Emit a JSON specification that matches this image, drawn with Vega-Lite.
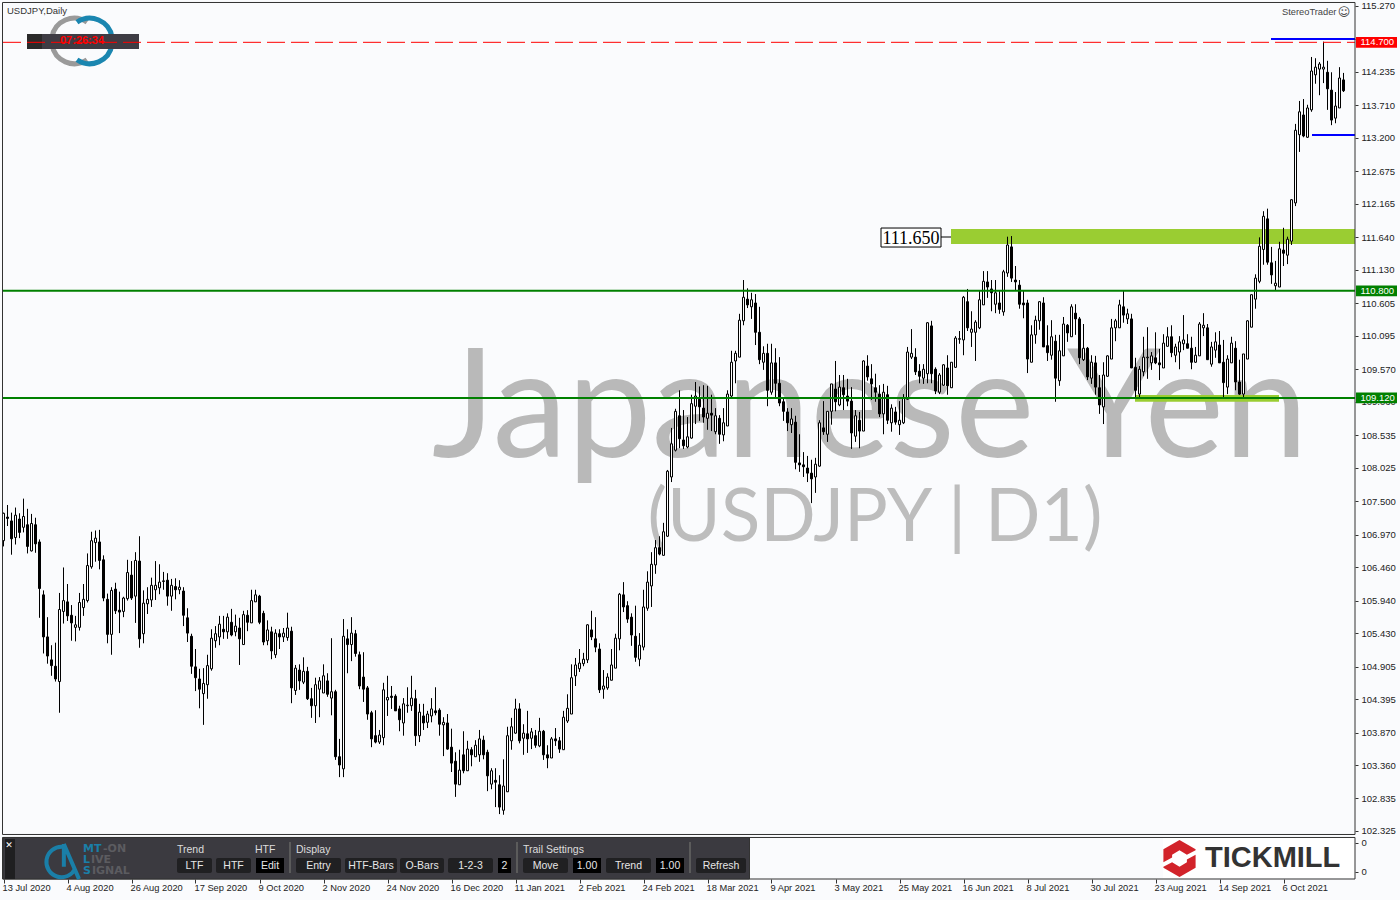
{"$schema":"https://vega.github.io/schema/vega-lite/v6.json","width":1355,"height":879,"autosize":{"type":"none"},"padding":{"left":0,"right":45,"top":0,"bottom":21},"background":"#fafbfd","config":{"view":{"stroke":null},"text":{"font":"Liberation Sans"}},
"datasets":{"candles":[
{"i":0,"o":106.88,"h":107.32,"l":106.79,"c":107.31},{"i":1,"o":107.25,"h":107.44,"l":107.11,"c":107.23},{"i":2,"o":107.19,"h":107.32,"l":106.66,"c":106.91},{"i":3,"o":106.93,"h":107.40,"l":106.82,"c":107.28},{"i":4,"o":107.22,"h":107.31,"l":106.92,"c":107.01},{"i":5,"o":107.09,"h":107.54,"l":107.01,"c":107.26},{"i":6,"o":107.13,"h":107.38,"l":106.68,"c":106.79},{"i":7,"o":106.72,"h":107.30,"l":106.71,"c":107.15},{"i":8,"o":107.13,"h":107.24,"l":106.69,"c":106.83},{"i":9,"o":106.86,"h":106.90,"l":105.67,"c":106.13},
{"i":10,"o":106.03,"h":106.10,"l":105.11,"c":105.37},{"i":11,"o":105.37,"h":105.68,"l":104.95,"c":105.07},{"i":12,"o":105.01,"h":105.24,"l":104.76,"c":104.92},{"i":13,"o":104.91,"h":105.28,"l":104.67,"c":104.71},{"i":14,"o":104.67,"h":106.06,"l":104.18,"c":105.80},{"i":15,"o":105.77,"h":106.46,"l":105.58,"c":105.94},{"i":16,"o":105.92,"h":106.20,"l":105.62,"c":105.70},{"i":17,"o":105.71,"h":105.87,"l":105.31,"c":105.59},{"i":18,"o":105.52,"h":105.70,"l":105.30,"c":105.56},{"i":19,"o":105.52,"h":106.06,"l":105.47,"c":105.91},
{"i":20,"o":105.83,"h":106.20,"l":105.70,"c":105.96},{"i":21,"o":105.94,"h":106.68,"l":105.91,"c":106.49},{"i":22,"o":106.47,"h":107.02,"l":106.44,"c":106.88},{"i":23,"o":106.85,"h":107.04,"l":106.55,"c":106.92},{"i":24,"o":106.86,"h":107.05,"l":106.43,"c":106.57},{"i":25,"o":106.58,"h":106.65,"l":105.93,"c":105.98},{"i":26,"o":105.96,"h":106.05,"l":105.27,"c":105.41},{"i":27,"o":105.41,"h":106.15,"l":105.09,"c":106.10},{"i":28,"o":106.12,"h":106.22,"l":105.73,"c":105.78},{"i":29,"o":105.79,"h":106.08,"l":105.43,"c":105.76},
{"i":30,"o":105.77,"h":106.00,"l":105.68,"c":105.98},{"i":31,"o":105.97,"h":106.58,"l":105.94,"c":106.38},{"i":32,"o":106.34,"h":106.56,"l":105.95,"c":105.98},{"i":33,"o":106.01,"h":106.70,"l":105.59,"c":106.57},{"i":34,"o":106.56,"h":106.95,"l":105.20,"c":105.34},{"i":35,"o":105.42,"h":106.10,"l":105.27,"c":105.90},{"i":36,"o":105.89,"h":106.15,"l":105.73,"c":105.96},{"i":37,"o":105.95,"h":106.30,"l":105.84,"c":106.18},{"i":38,"o":106.11,"h":106.56,"l":105.95,"c":106.18},{"i":39,"o":106.14,"h":106.51,"l":106.04,"c":106.23},
{"i":40,"o":106.24,"h":106.39,"l":106.11,"c":106.25},{"i":41,"o":106.26,"h":106.37,"l":105.86,"c":106.01},{"i":42,"o":106.01,"h":106.28,"l":105.78,"c":106.18},{"i":43,"o":106.16,"h":106.29,"l":105.96,"c":106.11},{"i":44,"o":106.11,"h":106.26,"l":106.04,"c":106.15},{"i":45,"o":106.09,"h":106.15,"l":105.54,"c":105.71},{"i":46,"o":105.67,"h":105.82,"l":105.29,"c":105.43},{"i":47,"o":105.38,"h":105.42,"l":104.79,"c":104.91},{"i":48,"o":104.90,"h":105.18,"l":104.52,"c":104.73},{"i":49,"o":104.71,"h":104.87,"l":104.25,"c":104.55},
{"i":50,"o":104.48,"h":104.88,"l":103.99,"c":104.64},{"i":51,"o":104.62,"h":105.09,"l":104.40,"c":104.92},{"i":52,"o":104.87,"h":105.49,"l":104.84,"c":105.35},{"i":53,"o":105.31,"h":105.54,"l":105.20,"c":105.42},{"i":54,"o":105.37,"h":105.70,"l":105.24,"c":105.57},{"i":55,"o":105.49,"h":105.70,"l":105.34,"c":105.45},{"i":56,"o":105.45,"h":105.74,"l":105.34,"c":105.68},{"i":57,"o":105.60,"h":105.81,"l":105.38,"c":105.40},{"i":58,"o":105.45,"h":105.72,"l":105.38,"c":105.54},{"i":59,"o":105.51,"h":105.67,"l":104.93,"c":105.34},
{"i":60,"o":105.25,"h":105.78,"l":105.25,"c":105.72},{"i":61,"o":105.71,"h":105.79,"l":105.46,"c":105.60},{"i":62,"o":105.59,"h":106.11,"l":105.59,"c":105.94},{"i":63,"o":105.92,"h":106.11,"l":105.92,"c":106.03},{"i":64,"o":106.01,"h":106.03,"l":105.57,"c":105.60},{"i":65,"o":105.74,"h":105.78,"l":105.24,"c":105.29},{"i":66,"o":105.31,"h":105.63,"l":105.24,"c":105.48},{"i":67,"o":105.45,"h":105.53,"l":105.02,"c":105.15},{"i":68,"o":105.09,"h":105.49,"l":105.04,"c":105.43},{"i":69,"o":105.42,"h":105.49,"l":105.18,"c":105.37},
{"i":70,"o":105.37,"h":105.51,"l":105.29,"c":105.43},{"i":71,"o":105.36,"h":105.75,"l":105.31,"c":105.51},{"i":72,"o":105.46,"h":105.53,"l":104.33,"c":104.57},{"i":73,"o":104.53,"h":104.93,"l":104.46,"c":104.88},{"i":74,"o":104.85,"h":104.94,"l":104.54,"c":104.68},{"i":75,"o":104.66,"h":105.05,"l":104.63,"c":104.83},{"i":76,"o":104.83,"h":104.90,"l":104.38,"c":104.40},{"i":77,"o":104.40,"h":104.57,"l":104.10,"c":104.29},{"i":78,"o":104.29,"h":104.73,"l":104.02,"c":104.62},{"i":79,"o":104.55,"h":104.74,"l":104.11,"c":104.68},
{"i":80,"o":104.49,"h":104.94,"l":104.49,"c":104.76},{"i":81,"o":104.68,"h":104.80,"l":104.43,"c":104.47},{"i":82,"o":104.41,"h":105.35,"l":104.14,"c":104.51},{"i":83,"o":104.51,"h":104.54,"l":103.44,"c":103.49},{"i":84,"o":103.49,"h":103.77,"l":103.17,"c":103.36},{"i":85,"o":103.30,"h":105.65,"l":103.17,"c":105.38},{"i":86,"o":105.34,"h":105.49,"l":104.80,"c":105.25},{"i":87,"o":105.25,"h":105.68,"l":104.99,"c":105.43},{"i":88,"o":105.42,"h":105.48,"l":105.06,"c":105.11},{"i":89,"o":105.09,"h":105.14,"l":104.55,"c":104.60},
{"i":90,"o":104.74,"h":105.13,"l":104.35,"c":104.55},{"i":91,"o":104.57,"h":104.60,"l":104.07,"c":104.16},{"i":92,"o":104.18,"h":104.21,"l":103.64,"c":103.77},{"i":93,"o":103.82,"h":104.22,"l":103.70,"c":103.72},{"i":94,"o":103.72,"h":103.91,"l":103.69,"c":103.83},{"i":95,"o":103.79,"h":104.65,"l":103.67,"c":104.54},{"i":96,"o":104.38,"h":104.76,"l":104.13,"c":104.42},{"i":97,"o":104.44,"h":104.60,"l":104.24,"c":104.42},{"i":98,"o":104.44,"h":104.47,"l":104.21,"c":104.21},{"i":99,"o":104.24,"h":104.29,"l":103.89,"c":104.07},
{"i":100,"o":104.02,"h":104.41,"l":103.82,"c":104.32},{"i":101,"o":104.29,"h":104.58,"l":104.18,"c":104.30},{"i":102,"o":104.29,"h":104.76,"l":104.21,"c":104.41},{"i":103,"o":104.40,"h":104.54,"l":103.66,"c":103.82},{"i":104,"o":103.82,"h":104.32,"l":103.72,"c":104.19},{"i":105,"o":104.13,"h":104.32,"l":103.91,"c":104.02},{"i":106,"o":104.03,"h":104.21,"l":103.94,"c":104.16},{"i":107,"o":104.13,"h":104.41,"l":104.03,"c":104.24},{"i":108,"o":104.21,"h":104.58,"l":104.14,"c":104.18},{"i":109,"o":104.22,"h":104.25,"l":103.82,"c":104.00},
{"i":110,"o":103.99,"h":104.11,"l":103.50,"c":104.03},{"i":111,"o":104.02,"h":104.16,"l":103.60,"c":103.61},{"i":112,"o":103.64,"h":103.93,"l":103.25,"c":103.39},{"i":113,"o":103.42,"h":103.56,"l":102.86,"c":103.06},{"i":114,"o":103.05,"h":103.60,"l":103.05,"c":103.28},{"i":115,"o":103.52,"h":103.89,"l":103.23,"c":103.27},{"i":116,"o":103.27,"h":103.74,"l":103.27,"c":103.61},{"i":117,"o":103.60,"h":103.64,"l":103.34,"c":103.52},{"i":118,"o":103.49,"h":103.75,"l":103.49,"c":103.67},{"i":119,"o":103.52,"h":103.91,"l":103.41,"c":103.77},
{"i":120,"o":103.75,"h":103.82,"l":103.45,"c":103.52},{"i":121,"o":103.56,"h":103.60,"l":102.95,"c":103.19},{"i":122,"o":103.06,"h":103.31,"l":102.98,"c":103.27},{"i":123,"o":103.12,"h":103.31,"l":102.70,"c":103.09},{"i":124,"o":103.05,"h":103.20,"l":102.59,"c":102.70},{"i":125,"o":102.65,"h":103.45,"l":102.58,"c":103.03},{"i":126,"o":102.94,"h":103.96,"l":102.94,"c":103.82},{"i":127,"o":103.74,"h":104.10,"l":103.60,"c":103.96},{"i":128,"o":103.86,"h":104.40,"l":103.85,"c":104.24},{"i":129,"o":104.24,"h":104.33,"l":103.70,"c":103.74},
{"i":130,"o":103.78,"h":104.00,"l":103.52,"c":103.86},{"i":131,"o":103.85,"h":104.21,"l":103.55,"c":103.77},{"i":132,"o":103.78,"h":103.94,"l":103.61,"c":103.88},{"i":133,"o":103.82,"h":103.91,"l":103.63,"c":103.67},{"i":134,"o":103.66,"h":104.10,"l":103.64,"c":103.89},{"i":135,"o":103.89,"h":103.91,"l":103.44,"c":103.52},{"i":136,"o":103.52,"h":103.67,"l":103.31,"c":103.47},{"i":137,"o":103.47,"h":103.80,"l":103.47,"c":103.77},{"i":138,"o":103.77,"h":103.94,"l":103.66,"c":103.74},{"i":139,"o":103.74,"h":103.80,"l":103.55,"c":103.61},
{"i":140,"o":103.60,"h":104.21,"l":103.60,"c":104.11},{"i":141,"o":104.05,"h":104.47,"l":104.02,"c":104.25},{"i":142,"o":104.16,"h":104.94,"l":104.16,"c":104.73},{"i":143,"o":104.76,"h":105.04,"l":104.60,"c":104.93},{"i":144,"o":104.87,"h":105.18,"l":104.82,"c":104.96},{"i":145,"o":104.95,"h":105.12,"l":104.91,"c":105.02},{"i":146,"o":105.01,"h":105.57,"l":104.96,"c":105.56},{"i":147,"o":105.48,"h":105.78,"l":105.32,"c":105.37},{"i":148,"o":105.34,"h":105.68,"l":105.13,"c":105.21},{"i":149,"o":105.18,"h":105.27,"l":104.49,"c":104.54},
{"i":150,"o":104.55,"h":104.85,"l":104.40,"c":104.60},{"i":151,"o":104.57,"h":104.80,"l":104.54,"c":104.74},{"i":152,"o":104.69,"h":105.18,"l":104.69,"c":104.93},{"i":153,"o":104.88,"h":105.42,"l":104.88,"c":105.35},{"i":154,"o":105.34,"h":106.06,"l":105.16,"c":106.04},{"i":155,"o":106.03,"h":106.23,"l":105.76,"c":105.84},{"i":156,"o":105.86,"h":105.93,"l":105.59,"c":105.65},{"i":157,"o":105.68,"h":105.74,"l":105.23,"c":105.40},{"i":158,"o":105.38,"h":105.86,"l":104.98,"c":105.05},{"i":159,"o":105.02,"h":105.43,"l":104.91,"c":105.24},
{"i":160,"o":105.21,"h":106.11,"l":105.16,"c":105.84},{"i":161,"o":105.82,"h":106.40,"l":105.78,"c":106.23},{"i":162,"o":106.17,"h":106.70,"l":105.84,"c":106.51},{"i":163,"o":106.50,"h":106.89,"l":106.36,"c":106.77},{"i":164,"o":106.77,"h":106.95,"l":106.65,"c":106.67},{"i":165,"o":106.65,"h":107.16,"l":106.65,"c":107.02},{"i":166,"o":106.95,"h":107.99,"l":106.94,"c":107.97},{"i":167,"o":107.88,"h":108.65,"l":107.80,"c":108.40},{"i":168,"o":108.30,"h":108.95,"l":108.28,"c":108.91},{"i":169,"o":108.84,"h":109.24,"l":108.33,"c":108.48},
{"i":170,"o":108.46,"h":108.93,"l":108.32,"c":108.37},{"i":171,"o":108.35,"h":108.82,"l":108.33,"c":108.51},{"i":172,"o":108.49,"h":109.17,"l":108.48,"c":109.03},{"i":173,"o":108.99,"h":109.37,"l":108.71,"c":109.15},{"i":174,"o":109.10,"h":109.30,"l":108.76,"c":108.98},{"i":175,"o":108.96,"h":109.32,"l":108.73,"c":108.82},{"i":176,"o":108.80,"h":109.31,"l":108.62,"c":108.88},{"i":177,"o":108.88,"h":109.17,"l":108.60,"c":108.85},{"i":178,"o":108.59,"h":108.96,"l":108.55,"c":108.84},{"i":179,"o":108.80,"h":108.85,"l":108.40,"c":108.55},
{"i":180,"o":108.54,"h":108.96,"l":108.44,"c":108.73},{"i":181,"o":108.68,"h":109.24,"l":108.68,"c":109.18},{"i":182,"o":109.15,"h":109.86,"l":109.13,"c":109.68},{"i":183,"o":109.70,"h":109.86,"l":109.35,"c":109.82},{"i":184,"o":109.76,"h":110.44,"l":109.76,"c":110.34},{"i":185,"o":110.33,"h":110.97,"l":110.26,"c":110.70},{"i":186,"o":110.67,"h":110.84,"l":110.53,"c":110.58},{"i":187,"o":110.55,"h":110.77,"l":110.36,"c":110.66},{"i":188,"o":110.61,"h":110.75,"l":109.95,"c":110.15},{"i":189,"o":110.15,"h":110.55,"l":109.65,"c":109.72},
{"i":190,"o":109.68,"h":109.93,"l":109.56,"c":109.82},{"i":191,"o":109.82,"h":109.97,"l":108.99,"c":109.24},{"i":192,"o":109.21,"h":109.97,"l":109.17,"c":109.67},{"i":193,"o":109.67,"h":109.90,"l":109.12,"c":109.35},{"i":194,"o":109.35,"h":109.76,"l":108.99,"c":109.04},{"i":195,"o":109.06,"h":109.11,"l":108.76,"c":108.91},{"i":196,"o":108.90,"h":108.96,"l":108.60,"c":108.73},{"i":197,"o":108.70,"h":108.96,"l":108.57,"c":108.79},{"i":198,"o":108.74,"h":108.84,"l":108.00,"c":108.11},{"i":199,"o":108.10,"h":108.55,"l":107.96,"c":108.07},
{"i":200,"o":108.07,"h":108.27,"l":107.88,"c":108.04},{"i":201,"o":108.02,"h":108.21,"l":107.80,"c":107.94},{"i":202,"o":107.94,"h":108.15,"l":107.47,"c":107.85},{"i":203,"o":107.88,"h":108.18,"l":107.63,"c":108.08},{"i":204,"o":108.05,"h":108.77,"l":108.04,"c":108.73},{"i":205,"o":108.65,"h":109.07,"l":108.54,"c":108.59},{"i":206,"o":108.55,"h":108.91,"l":108.43,"c":108.91},{"i":207,"o":108.91,"h":109.34,"l":108.70,"c":109.34},{"i":208,"o":109.26,"h":109.70,"l":108.91,"c":109.06},{"i":209,"o":109.01,"h":109.48,"l":108.99,"c":109.29},
{"i":210,"o":109.28,"h":109.48,"l":108.93,"c":109.17},{"i":211,"o":109.15,"h":109.42,"l":108.99,"c":109.07},{"i":212,"o":109.07,"h":109.29,"l":108.32,"c":108.57},{"i":213,"o":108.52,"h":108.93,"l":108.43,"c":108.84},{"i":214,"o":108.77,"h":108.90,"l":108.33,"c":108.60},{"i":215,"o":108.60,"h":109.71,"l":108.60,"c":109.70},{"i":216,"o":109.62,"h":109.79,"l":109.39,"c":109.45},{"i":217,"o":109.42,"h":109.65,"l":109.09,"c":109.34},{"i":218,"o":109.28,"h":109.50,"l":109.06,"c":109.21},{"i":219,"o":109.18,"h":109.32,"l":108.82,"c":108.87},
{"i":220,"o":108.87,"h":109.34,"l":108.55,"c":109.21},{"i":221,"o":109.17,"h":109.31,"l":108.71,"c":108.77},{"i":222,"o":108.73,"h":109.02,"l":108.59,"c":108.96},{"i":223,"o":108.90,"h":108.98,"l":108.70,"c":108.74},{"i":224,"o":108.70,"h":109.07,"l":108.54,"c":108.77},{"i":225,"o":108.73,"h":109.18,"l":108.71,"c":109.12},{"i":226,"o":109.10,"h":109.92,"l":109.09,"c":109.84},{"i":227,"o":109.76,"h":110.20,"l":109.73,"c":109.82},{"i":228,"o":109.76,"h":109.90,"l":109.48,"c":109.53},{"i":229,"o":109.54,"h":109.65,"l":109.35,"c":109.46},
{"i":230,"o":109.43,"h":109.65,"l":109.34,"c":109.57},{"i":231,"o":109.50,"h":110.31,"l":109.35,"c":110.30},{"i":232,"o":110.25,"h":110.33,"l":109.35,"c":109.50},{"i":233,"o":109.57,"h":109.60,"l":109.18,"c":109.23},{"i":234,"o":109.21,"h":109.51,"l":109.18,"c":109.48},{"i":235,"o":109.32,"h":109.65,"l":109.31,"c":109.64},{"i":236,"o":109.59,"h":109.79,"l":109.17,"c":109.31},{"i":237,"o":109.28,"h":109.68,"l":109.28,"c":109.68},{"i":238,"o":109.60,"h":110.09,"l":109.59,"c":110.06},{"i":239,"o":110.04,"h":110.17,"l":109.97,"c":110.05},
{"i":240,"o":110.03,"h":110.72,"l":109.79,"c":110.70},{"i":241,"o":110.63,"h":110.83,"l":110.17,"c":110.22},{"i":242,"o":110.15,"h":110.48,"l":109.92,"c":110.20},{"i":243,"o":110.15,"h":110.34,"l":109.70,"c":110.31},{"i":244,"o":110.22,"h":110.81,"l":110.20,"c":110.66},{"i":245,"o":110.58,"h":111.11,"l":110.58,"c":110.95},{"i":246,"o":110.94,"h":111.11,"l":110.69,"c":110.86},{"i":247,"o":110.83,"h":110.97,"l":110.48,"c":110.77},{"i":248,"o":110.59,"h":110.97,"l":110.45,"c":110.77},{"i":249,"o":110.61,"h":110.81,"l":110.44,"c":110.51},
{"i":250,"o":110.47,"h":111.13,"l":110.41,"c":111.10},{"i":251,"o":111.08,"h":111.65,"l":111.02,"c":111.52},{"i":252,"o":111.49,"h":111.66,"l":110.94,"c":111.00},{"i":253,"o":110.97,"h":111.19,"l":110.81,"c":110.94},{"i":254,"o":110.89,"h":110.97,"l":110.52,"c":110.59},{"i":255,"o":110.61,"h":110.80,"l":110.37,"c":110.58},{"i":256,"o":110.61,"h":110.66,"l":109.51,"c":109.73},{"i":257,"o":109.68,"h":110.26,"l":109.68,"c":110.11},{"i":258,"o":110.11,"h":110.41,"l":109.97,"c":110.34},{"i":259,"o":110.33,"h":110.64,"l":110.19,"c":110.63},
{"i":260,"o":110.61,"h":110.70,"l":109.92,"c":109.92},{"i":261,"o":109.94,"h":110.26,"l":109.70,"c":109.83},{"i":262,"o":109.79,"h":110.34,"l":109.72,"c":110.08},{"i":263,"o":110.01,"h":110.11,"l":109.06,"c":109.43},{"i":264,"o":109.39,"h":110.11,"l":109.31,"c":109.86},{"i":265,"o":109.78,"h":110.39,"l":109.78,"c":110.28},{"i":266,"o":110.26,"h":110.28,"l":110.00,"c":110.14},{"i":267,"o":110.08,"h":110.59,"l":110.08,"c":110.55},{"i":268,"o":110.45,"h":110.59,"l":110.11,"c":110.36},{"i":269,"o":110.36,"h":110.39,"l":109.65,"c":109.75},
{"i":270,"o":109.72,"h":110.28,"l":109.70,"c":109.90},{"i":271,"o":109.90,"h":109.92,"l":109.40,"c":109.45},{"i":272,"o":109.43,"h":109.79,"l":109.34,"c":109.68},{"i":273,"o":109.67,"h":109.78,"l":109.17,"c":109.29},{"i":274,"o":109.28,"h":109.48,"l":108.87,"c":109.01},{"i":275,"o":108.98,"h":109.68,"l":108.71,"c":109.48},{"i":276,"o":109.46,"h":109.79,"l":109.45,"c":109.78},{"i":277,"o":109.73,"h":110.36,"l":109.73,"c":110.22},{"i":278,"o":110.22,"h":110.36,"l":110.01,"c":110.33},{"i":279,"o":110.22,"h":110.66,"l":110.22,"c":110.58},
{"i":280,"o":110.55,"h":110.80,"l":110.30,"c":110.42},{"i":281,"o":110.36,"h":110.52,"l":110.28,"c":110.44},{"i":282,"o":110.36,"h":110.44,"l":109.59,"c":109.59},{"i":283,"o":109.60,"h":109.75,"l":109.13,"c":109.24},{"i":284,"o":109.18,"h":109.62,"l":109.13,"c":109.57},{"i":285,"o":109.53,"h":110.08,"l":109.46,"c":109.76},{"i":286,"o":109.75,"h":110.23,"l":109.42,"c":109.76},{"i":287,"o":109.67,"h":109.84,"l":109.56,"c":109.78},{"i":288,"o":109.75,"h":110.15,"l":109.65,"c":109.67},{"i":289,"o":109.67,"h":109.89,"l":109.40,"c":109.64},
{"i":290,"o":109.59,"h":110.12,"l":109.59,"c":109.98},{"i":291,"o":109.93,"h":110.23,"l":109.93,"c":110.08},{"i":292,"o":110.08,"h":110.26,"l":109.76,"c":109.83},{"i":293,"o":109.79,"h":109.97,"l":109.68,"c":109.92},{"i":294,"o":109.84,"h":110.09,"l":109.57,"c":110.00},{"i":295,"o":109.97,"h":110.42,"l":109.87,"c":110.03},{"i":296,"o":109.97,"h":110.12,"l":109.90,"c":109.90},{"i":297,"o":109.90,"h":110.08,"l":109.57,"c":109.68},{"i":298,"o":109.68,"h":109.92,"l":109.67,"c":109.79},{"i":299,"o":109.78,"h":110.31,"l":109.78,"c":110.28},
{"i":300,"o":110.22,"h":110.45,"l":110.09,"c":110.26},{"i":301,"o":110.22,"h":110.28,"l":109.72,"c":109.72},{"i":302,"o":109.65,"h":110.00,"l":109.61,"c":109.92},{"i":303,"o":109.87,"h":110.15,"l":109.75,"c":110.00},{"i":304,"o":109.95,"h":110.17,"l":109.67,"c":109.67},{"i":305,"o":109.68,"h":110.03,"l":109.13,"c":109.36},{"i":306,"o":109.29,"h":109.79,"l":109.18,"c":109.73},{"i":307,"o":109.67,"h":110.08,"l":109.67,"c":109.98},{"i":308,"o":109.90,"h":110.01,"l":109.24,"c":109.37},{"i":309,"o":109.37,"h":109.72,"l":109.17,"c":109.18},
{"i":310,"o":109.18,"h":109.81,"l":109.13,"c":109.81},{"i":311,"o":109.73,"h":110.34,"l":109.73,"c":110.33},{"i":312,"o":110.23,"h":110.74,"l":110.23,"c":110.74},{"i":313,"o":110.67,"h":111.06,"l":110.52,"c":111.00},{"i":314,"o":110.95,"h":111.64,"l":110.92,"c":111.50},{"i":315,"o":111.45,"h":112.05,"l":111.21,"c":111.97},{"i":316,"o":111.93,"h":112.09,"l":111.21,"c":111.25},{"i":317,"o":111.24,"h":111.49,"l":110.91,"c":111.05},{"i":318,"o":110.88,"h":111.27,"l":110.81,"c":110.92},{"i":319,"o":110.86,"h":111.57,"l":110.86,"c":111.46},
{"i":320,"o":111.44,"h":111.79,"l":111.19,"c":111.39},{"i":321,"o":111.36,"h":111.65,"l":111.22,"c":111.61},{"i":322,"o":111.58,"h":112.24,"l":111.52,"c":112.23},{"i":323,"o":112.18,"h":113.42,"l":112.13,"c":113.32},{"i":324,"o":113.25,"h":113.78,"l":112.98,"c":113.61},{"i":325,"o":113.56,"h":113.81,"l":113.21,"c":113.23},{"i":326,"o":113.21,"h":113.72,"l":113.20,"c":113.67},{"i":327,"o":113.64,"h":114.47,"l":113.61,"c":114.25},{"i":328,"o":114.19,"h":114.45,"l":114.05,"c":114.31},{"i":329,"o":114.28,"h":114.39,"l":113.87,"c":114.36},
{"i":330,"o":114.28,"h":114.71,"l":114.06,"c":114.31},{"i":331,"o":114.23,"h":114.41,"l":113.64,"c":113.97},{"i":332,"o":113.95,"h":114.23,"l":113.40,"c":113.48},{"i":333,"o":113.51,"h":113.92,"l":113.43,"c":113.70},{"i":334,"o":113.67,"h":114.31,"l":113.67,"c":114.14},{"i":335,"o":114.11,"h":114.22,"l":113.92,"c":113.94}
]},
"encoding":{
"x":{"field":"i","type":"quantitative","title":null,"scale":{"domain":[-0.875,337.875],"nice":false,"zero":false,"padding":0},"axis":{"title":null,"grid":false,"domain":false,"values":[0,16,32,48,64,80,96,112,128,144,160,176,192,208,224,240,256,272,288,304,320],"labelExpr":"['13 Jul 2020','4 Aug 2020','26 Aug 2020','17 Sep 2020','9 Oct 2020','2 Nov 2020','24 Nov 2020','16 Dec 2020','11 Jan 2021','2 Feb 2021','24 Feb 2021','18 Mar 2021','9 Apr 2021','3 May 2021','25 May 2021','16 Jun 2021','8 Jul 2021','30 Jul 2021','23 Aug 2021','14 Sep 2021','6 Oct 2021'][datum.value/16]","labelAlign":"left","labelOffset":-1.5,"labelPadding":0,"labelBaseline":"top","labelFont":"Liberation Sans","labelFontSize":9.3,"labelColor":"#222222","tickColor":"#333333","tickSize":4,"labelOverlap":false,"labelFlush":false}},
"y":{"field":"p","type":"quantitative","title":null,"scale":{"domain":[101.5715,115.364],"nice":false,"zero":false,"padding":0},"axis":{"title":null,"orient":"right","grid":false,"domain":false,"values":[115.27,114.745,114.235,113.71,113.2,112.675,112.165,111.64,111.13,110.605,110.095,109.57,109.06,108.535,108.025,107.5,106.97,106.46,105.94,105.43,104.905,104.395,103.87,103.36,102.835,102.325,102.137,101.682],"labelExpr":"datum.value<102.3?'0':(datum.value==114.745?'':format(datum.value,'.3f'))","labelPadding":3,"labelFont":"Liberation Sans","labelFontSize":9.5,"labelColor":"#222222","tickColor":"#333333","tickSize":3,"labelOverlap":false,"labelFlush":false}}
},
"layer":[
{"data":{"values":[{"i":216.6,"p":108.193,"t":"Japanese Yen"}]},"mark":{"type":"text","font":"Lato","fontSize":150.5,"align":"center","baseline":"alphabetic","color":"#b9b9b9"},"encoding":{"text":{"field":"t"}}},
{"data":{"values":[{"i":217.875,"p":106.875,"t":"(USDJPY | D1)"}]},"mark":{"type":"text","font":"Lato","fontSize":73,"align":"center","baseline":"alphabetic","color":"#bdbdbd"},"encoding":{"text":{"field":"t"}}},
{"data":{"values":[{"i":17.75,"p":114.721}]},"mark":{"type":"point","shape":"M-.9 -.15A.9 .9 0 0 1 .5 -.75M-.9 .15A.9 .9 0 0 0 .5 .75","size":2500,"filled":false,"stroke":"#9a9a9a","strokeWidth":5,"opacity":1}},
{"data":{"values":[{"i":21.5,"p":114.721}]},"mark":{"type":"point","shape":"M.9 -.15A.9 .9 0 0 0 -.5 -.75M.9 .15A.9 .9 0 0 1 -.5 .75","size":2500,"filled":false,"stroke":"#1a86b0","strokeWidth":5,"opacity":1}},
{"data":{"values":[{"i":236.875,"i2":337.875,"p":111.771,"p2":111.535},{"i":282.875,"i2":318.875,"p":109.166,"p2":109.06}]},"mark":{"type":"rect","fill":"#9acd32"},"encoding":{"x2":{"field":"i2"},"y2":{"field":"p2"}}},
{"data":{"name":"candles"},"mark":{"type":"rule","color":"#000000","strokeWidth":1},"encoding":{"y":{"field":"h","type":"quantitative","title":null,"scale":{"domain":[101.5715,115.364],"nice":false,"zero":false,"padding":0}},"y2":{"field":"l"}}},
{"data":{"name":"candles"},"mark":{"type":"bar","size":2,"orient":"vertical","stroke":"#000000","strokeWidth":1},"encoding":{"y":{"field":"o","type":"quantitative","title":null,"scale":{"domain":[101.5715,115.364],"nice":false,"zero":false,"padding":0}},"y2":{"field":"c"},"fill":{"condition":{"test":"datum.c>=datum.o","value":"#ffffff"},"value":"#000000"}}},
{"data":{"values":[{"i":-0.125,"i2":337.875,"p":110.8},{"i":-0.125,"i2":337.875,"p":109.12}]},"mark":{"type":"rule","color":"#008000","strokeWidth":2},"encoding":{"x2":{"field":"i2"}}},
{"data":{"values":[{"i":316.875,"i2":337.875,"p":114.752},{"i":327.125,"i2":337.875,"p":113.246}]},"mark":{"type":"rule","color":"#0000ff","strokeWidth":2},"encoding":{"x2":{"field":"i2"}}},
{"data":{"values":[{"i":5.875,"i2":33.875,"p":114.83,"p2":114.595}]},"mark":{"type":"rect","fill":"#3e3c44"},"encoding":{"x2":{"field":"i2"},"y2":{"field":"p2"}}},
{"data":{"values":[{"i":5.875,"i2":9.625,"p":114.83,"p2":114.595}]},"mark":{"type":"rect","fill":"#2a2a2a"},"encoding":{"x2":{"field":"i2"},"y2":{"field":"p2"}}},
{"data":{"values":[{"i":19.625,"p":114.72,"t":"07:26:34"}]},"mark":{"type":"text","font":"Liberation Sans","fontWeight":"bold","fontSize":11,"align":"center","baseline":"middle","color":"#ff0000"},"encoding":{"text":{"field":"t"}}},
{"data":{"values":[{"i":-0.125,"i2":337.875,"p":114.7}]},"mark":{"type":"rule","color":"#ff0000","strokeWidth":1,"strokeDash":[18,6]},"encoding":{"x2":{"field":"i2"}}},
{"data":{"values":[{"i":234.375,"i2":236.875,"p":111.645}]},"mark":{"type":"rule","color":"#000000","strokeWidth":1},"encoding":{"x2":{"field":"i2"}}},
{"data":{"values":[{"i":219.375,"i2":234.375,"p":111.786,"p2":111.488}]},"mark":{"type":"rect","fill":"#ffffff","stroke":"#000000","strokeWidth":1},"encoding":{"x2":{"field":"i2"},"y2":{"field":"p2"}}},
{"data":{"values":[{"i":226.875,"p":111.615,"t":"111.650"}]},"mark":{"type":"text","font":"Liberation Serif","fontSize":18,"align":"center","baseline":"middle","color":"#000000"},"encoding":{"text":{"field":"t"}}},
{"data":{"values":[{"i":-0.25,"i2":337.875,"p":115.325,"p2":102.27}]},"mark":{"type":"rect","fill":null,"fillOpacity":0,"stroke":"#333333","strokeWidth":1},"encoding":{"x2":{"field":"i2"},"y2":{"field":"p2"}}},
{"data":{"values":[{"i":289.875,"i2":337.75,"p":102.215,"p2":101.587}]},"mark":{"type":"rect","fill":"#ffffff"},"encoding":{"x2":{"field":"i2"},"y2":{"field":"p2"}}},
{"data":{"values":[{"i":-0.25,"i2":337.875,"p":102.223,"p2":101.5715}]},"mark":{"type":"rect","fill":null,"fillOpacity":0,"stroke":"#333333","strokeWidth":1},"encoding":{"x2":{"field":"i2"},"y2":{"field":"p2"}}},
{"data":{"values":[{"i":294,"p":101.893}]},"mark":{"type":"point","shape":"M-.87 .2L-.87 -.5L0 -1L.87 -.5L.87 -.45L.4 -.2L0 -.45L-.4 -.2L-.4 -.05ZM.87 -.2L.87 .5L0 1L-.87 .5L-.87 .45L-.4 .2L0 .45L.4 .2L.4 .05Z","size":1369,"filled":true,"fill":"#d2232a","opacity":1}},
{"data":{"values":[{"i":300.375,"p":101.901,"t":"TICKMILL"}]},"mark":{"type":"text","font":"Liberation Sans","fontWeight":"bold","fontSize":29,"align":"left","baseline":"middle","color":"#333333"},"encoding":{"text":{"field":"t"}}},
{"data":{"values":[{"i":-0.125,"i2":186.5,"p":102.223,"p2":101.5715}]},"mark":{"type":"rect","fill":"#3b3a40","stroke":"#333333"},"encoding":{"x2":{"field":"i2"},"y2":{"field":"p2"}}},
{"data":{"values":[{"i":0.375,"i2":2.875,"p":102.199,"p2":101.5715}]},"mark":{"type":"rect","fill":"#1f1f21"},"encoding":{"x2":{"field":"i2"},"y2":{"field":"p2"}}},
{"data":{"values":[{"i":43.375,"i2":52.125,"p":101.901,"p2":101.666},{"i":53.125,"i2":61.875,"p":101.901,"p2":101.666},{"i":73.125,"i2":84.375,"p":101.901,"p2":101.666},{"i":85.375,"i2":98.375,"p":101.901,"p2":101.666},{"i":99.125,"i2":110.125,"p":101.901,"p2":101.666},{"i":111.125,"i2":122.375,"p":101.901,"p2":101.666},{"i":129.875,"i2":141.125,"p":101.901,"p2":101.666},{"i":150.625,"i2":161.875,"p":101.901,"p2":101.666},{"i":173.125,"i2":185.625,"p":101.901,"p2":101.666}]},"mark":{"type":"rect","fill":"#202022","cornerRadius":2},"encoding":{"x2":{"field":"i2"},"y2":{"field":"p2"}}},
{"data":{"values":[{"i":63.125,"i2":70.125,"p":101.901,"p2":101.666},{"i":123.625,"i2":126.875,"p":101.901,"p2":101.666},{"i":142.375,"i2":149.375,"p":101.901,"p2":101.666},{"i":163.125,"i2":170.125,"p":101.901,"p2":101.666}]},"mark":{"type":"rect","fill":"#000000"},"encoding":{"x2":{"field":"i2"},"y2":{"field":"p2"}}},
{"data":{"values":[{"i":71.625,"p":102.152,"p2":101.666},{"i":128.375,"p":102.152,"p2":101.666},{"i":171.625,"p":102.152,"p2":101.666}]},"mark":{"type":"rule","color":"#5b5b5b","strokeWidth":2},"encoding":{"y2":{"field":"p2"}}},
{"data":{"values":[{"i":47.75,"p":101.775,"t":"LTF"},{"i":57.5,"p":101.775,"t":"HTF"},{"i":66.625,"p":101.775,"t":"Edit"},{"i":78.75,"p":101.775,"t":"Entry"},{"i":91.875,"p":101.775,"t":"HTF-Bars"},{"i":104.625,"p":101.775,"t":"O-Bars"},{"i":116.75,"p":101.775,"t":"1-2-3"},{"i":125.25,"p":101.775,"t":"2"},{"i":135.5,"p":101.775,"t":"Move"},{"i":145.875,"p":101.775,"t":"1.00"},{"i":156.25,"p":101.775,"t":"Trend"},{"i":166.625,"p":101.775,"t":"1.00"},{"i":179.375,"p":101.775,"t":"Refresh"}]},"mark":{"type":"text","font":"Liberation Sans","fontSize":10.5,"align":"center","baseline":"middle","color":"#e6e6e6"},"encoding":{"text":{"field":"t"}}},
{"data":{"values":[{"i":43.375,"p":102.034,"t":"Trend"},{"i":62.875,"p":102.034,"t":"HTF"},{"i":73.125,"p":102.034,"t":"Display"},{"i":129.875,"p":102.034,"t":"Trail Settings"}]},"mark":{"type":"text","font":"Liberation Sans","fontSize":10.5,"align":"left","baseline":"middle","color":"#dddddd"},"encoding":{"text":{"field":"t"}}},
{"data":{"values":[{"i":1.375,"p":102.105,"t":"✕"}]},"mark":{"type":"text","font":"DejaVu Sans","fontSize":9,"fontWeight":"bold","align":"center","baseline":"middle","color":"#ffffff"},"encoding":{"text":{"field":"t"}}},
{"data":{"values":[{"i":14.375,"p":101.838}]},"mark":{"type":"point","shape":"M.05 -.8A.8 .8 0 1 0 .75 .35M.15 -.95L.95 .9M.15 -.95L.15 .25","size":1444,"filled":false,"stroke":"#1a7fa8","strokeWidth":4,"opacity":1}},
{"data":{"values":[{"i":19.875,"p":102.05,"t":"MT"},{"i":19.875,"p":101.877,"t":"L"},{"i":19.875,"p":101.7,"t":"S"}]},"mark":{"type":"text","font":"DejaVu Sans","fontWeight":"bold","fontSize":11,"align":"left","baseline":"middle","color":"#1a7fa8"},"encoding":{"text":{"field":"t"}}},
{"data":{"values":[{"i":24.875,"p":102.05,"t":"-ON"},{"i":21.875,"p":101.877,"t":"IVE"},{"i":22.125,"p":101.7,"t":"IGNAL"}]},"mark":{"type":"text","font":"DejaVu Sans","fontWeight":"bold","fontSize":11,"align":"left","baseline":"middle","color":"#5c5c60"},"encoding":{"text":{"field":"t"}}},
{"data":{"values":[{"i":338.125,"i2":348.375,"p":114.785,"p2":114.615}]},"mark":{"type":"rect","fill":"#ff0000"},"encoding":{"x2":{"field":"i2"},"y2":{"field":"p2"}}},
{"data":{"values":[{"i":338.125,"i2":348.375,"p":110.885,"p2":110.715},{"i":338.125,"i2":348.375,"p":109.205,"p2":109.035}]},"mark":{"type":"rect","fill":"#008000"},"encoding":{"x2":{"field":"i2"},"y2":{"field":"p2"}}},
{"data":{"values":[{"i":339.25,"p":114.7,"t":"114.700"},{"i":339.25,"p":110.8,"t":"110.800"},{"i":339.25,"p":109.12,"t":"109.120"}]},"mark":{"type":"text","font":"Liberation Sans","fontSize":9.5,"align":"left","baseline":"middle","color":"#ffffff"},"encoding":{"text":{"field":"t"}}},
{"data":{"values":[{"i":0.875,"p":115.19,"t":"USDJPY,Daily"}]},"mark":{"type":"text","font":"Liberation Sans","fontSize":9.5,"align":"left","baseline":"middle","color":"#333333"},"encoding":{"text":{"field":"t"}}},
{"data":{"values":[{"i":319.625,"p":115.176,"t":"StereoTrader"}]},"mark":{"type":"text","font":"Liberation Sans","fontSize":9.3,"align":"left","baseline":"middle","color":"#444444"},"encoding":{"text":{"field":"t"}}},
{"data":{"values":[{"i":335.1,"p":115.176,"t":"☺"}]},"mark":{"type":"text","font":"DejaVu Sans","fontSize":12,"align":"center","baseline":"middle","color":"#444444"},"encoding":{"text":{"field":"t"}}}
]}
